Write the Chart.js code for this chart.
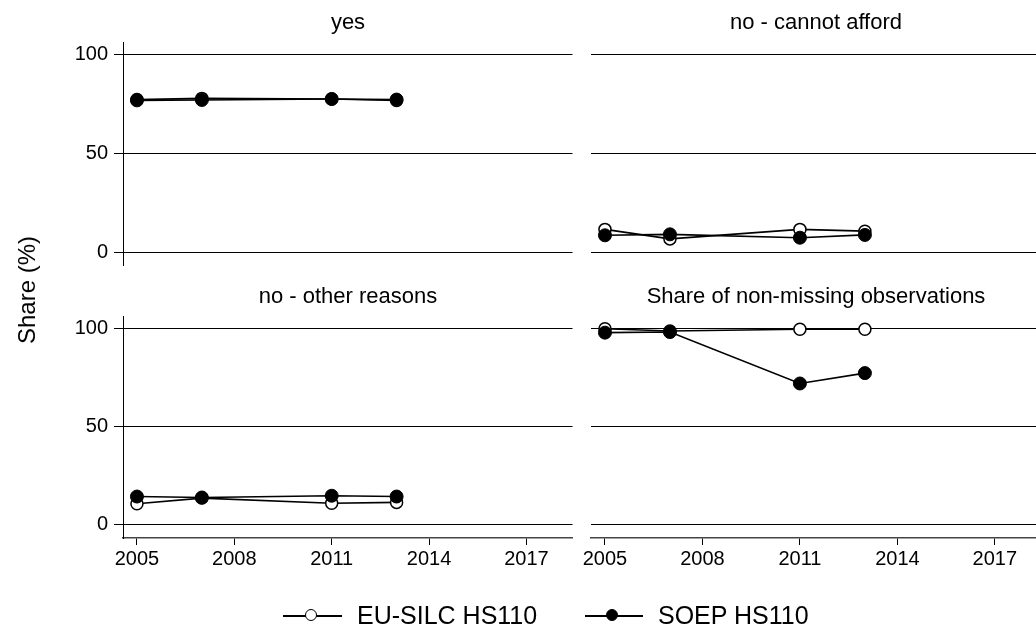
<!DOCTYPE html>
<html><head><meta charset="utf-8">
<script src="https://cdn.jsdelivr.net/npm/chart.js@4.4.1/dist/chart.umd.min.js"></script>
<style>
html,body{margin:0;padding:0;width:1036px;height:632px;overflow:hidden;background:#fff;font-family:"Liberation Sans",Arial,sans-serif;}
body{position:relative;}
canvas{position:absolute;}
.t{position:absolute;transform:translate(-50%,-50%);white-space:nowrap;color:#000;font-size:22px;line-height:1;}
.ytitle{position:absolute;left:27px;top:290px;transform:translate(-50%,-50%) rotate(-90deg);font-size:24px;white-space:nowrap;line-height:1;}
.lg{position:absolute;font-size:25px;line-height:1;white-space:nowrap;transform:translateY(-50%);}
.ln{position:absolute;height:1.5px;background:#000;}
.dot{position:absolute;width:10px;height:10px;border-radius:50%;border:1.5px solid #000;}
</style></head>
<body>
<canvas id="c1" width="580" height="290" style="left:0;top:0"></canvas>
<canvas id="c2" width="470" height="290" style="left:580px;top:0"></canvas>
<canvas id="c3" width="580" height="342" style="left:0;top:290px"></canvas>
<canvas id="c4" width="470" height="342" style="left:580px;top:290px"></canvas>

<div class="t" style="left:348px;top:22px">yes</div>
<div class="t" style="left:816px;top:22px">no - cannot afford</div>
<div class="t" style="left:348px;top:296px">no - other reasons</div>
<div class="t" style="left:816px;top:296px">Share of non-missing observations</div>
<div class="ytitle">Share (%)</div>

<div class="ln" style="left:283px;top:615px;width:59px"></div>
<div class="dot" style="left:305px;top:609px;background:#fff"></div>
<div class="lg" style="left:357px;top:615px">EU-SILC HS110</div>
<div class="ln" style="left:585px;top:615px;width:58px"></div>
<div class="dot" style="left:606px;top:609px;background:#000"></div>
<div class="lg" style="left:658px;top:615px">SOEP HS110</div>

<script>
const years = [2005, 2007, 2011, 2013];
const xTicks = [2005, 2008, 2011, 2014, 2017];
const yTicks = [0, 50, 100];

const euYes = [77.4, 78.0, 77.7, 76.9];
const soepYes = [77.0, 77.2, 77.7, 77.4];
const euCannot = [11.8, 7.0, 11.8, 10.9];
const soepCannot = [8.8, 9.3, 7.6, 9.0];
const euOther = [10.5, 13.4, 10.8, 11.2];
const soepOther = [14.2, 13.7, 14.6, 14.2];
const euShare = [100, 98.8, 99.7, 99.7];
const soepShare = [98.0, 98.3, 72.0, 77.3];

const FONT = '"Liberation Sans", Arial, sans-serif';
Chart.defaults.font.family = FONT;
Chart.defaults.color = '#000';

function pts(vals){ return years.map((y,i)=>({x:y, y:vals[i]})); }

function panel(id, eu, soep, o){
  const isLeft = o.left, isBottom = o.bottom;
  new Chart(document.getElementById(id), {
    type: 'line',
    data: { datasets: [
      { label:'SOEP HS110', data: pts(soep), order:0, borderColor:'#000', borderWidth:1.6,
        pointRadius:6.5, pointHoverRadius:6.5, pointBackgroundColor:'#000', pointBorderColor:'#000', pointBorderWidth:1, tension:0 },
      { label:'EU-SILC HS110', data: pts(eu), order:1, borderColor:'#000', borderWidth:1.6,
        pointRadius:6, pointHoverRadius:6, pointBackgroundColor:'#fff', pointBorderColor:'#000', pointBorderWidth:1.5, tension:0 }
    ]},
    options: {
      responsive:false, animation:false, devicePixelRatio:1,
      layout:{ padding: o.pad },
      plugins:{ legend:{display:false}, tooltip:{enabled:false}, title:{display:false} },
      scales:{
        x:{ type:'linear', display: isBottom, min:2004.57, max:2018.42,
            afterBuildTicks: s => { s.ticks = xTicks.map(v=>({value:v})); },
            afterFit: s => { if (isBottom) s.height = o.xh; },
            grid:{ drawOnChartArea:false, drawTicks:true, tickLength:7, color:'#000', tickColor:'#000', lineWidth:1 },
            border:{ display:true, color:'#444', width:1.5 },
            ticks:{ font:{size:20, family:FONT}, color:'#000', padding:2, maxRotation:0, autoSkip:false, callback: v => String(v) } },
        y:{ type:'linear', min:o.ymin, max:o.ymax,
            afterBuildTicks: s => { s.ticks = yTicks.map(v=>({value:v})); },
            afterFit: s => { s.width = o.yw; },
            grid:{ drawOnChartArea:true, drawTicks:isLeft, tickLength:9, color:'#000', tickColor:'#000', lineWidth:1 },
            border:{ display:isLeft, color:'#000', width:1 },
            ticks:{ display:isLeft, font:{size:20, family:FONT}, color:'#000', padding:6, callback: v => String(v) } }
      }
    }
  });
}

panel('c1', euYes, soepYes, {left:true, bottom:false, yw:123, pad:{left:0,top:42,right:7,bottom:25}, ymin:-6.2, ymax:106.5});
panel('c2', euCannot, soepCannot, {left:false, bottom:false, yw:11, pad:{left:0,top:42,right:9,bottom:25}, ymin:-6.2, ymax:106.5});
panel('c3', euOther, soepOther, {left:true, bottom:true, yw:123, xh:94, pad:{left:0,top:26,right:7,bottom:0}, ymin:-7, ymax:106.5});
panel('c4', euShare, soepShare, {left:false, bottom:true, yw:11, xh:94, pad:{left:0,top:26,right:9,bottom:0}, ymin:-7, ymax:106.5});
</script>
</body></html>
